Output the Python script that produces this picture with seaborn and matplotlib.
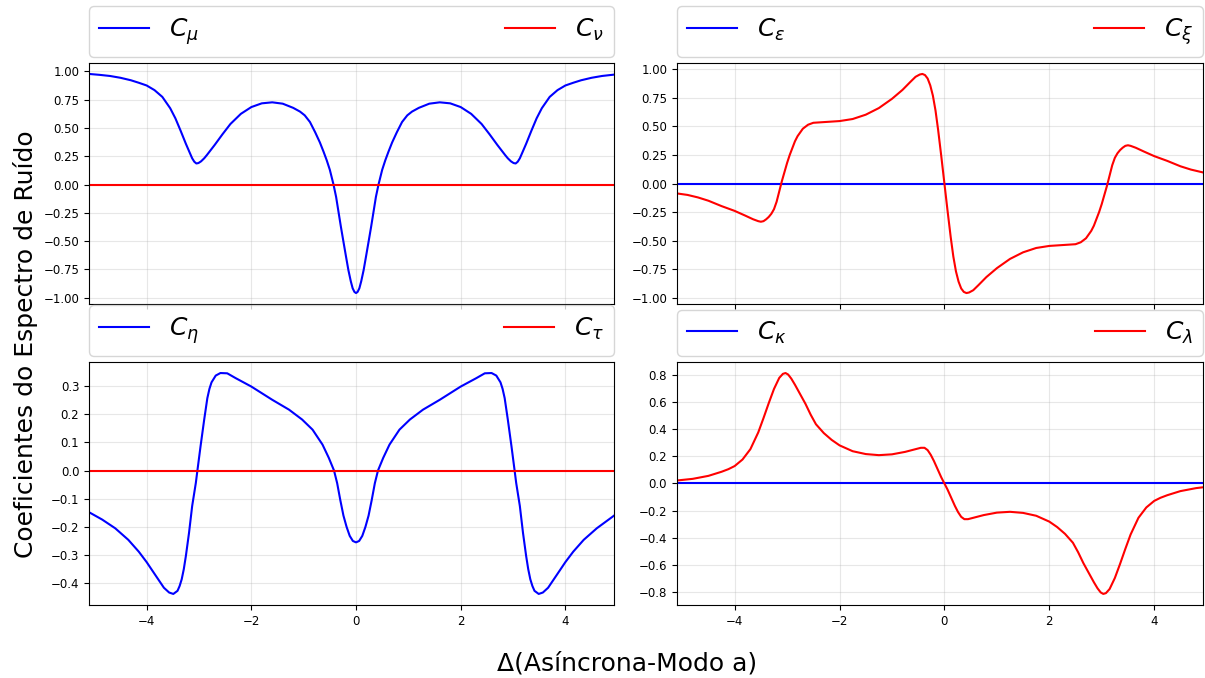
import matplotlib
matplotlib.use("Agg")
import matplotlib.pyplot as plt
import seaborn as sns

# C_mu (top left, blue)
x_mu = [-5.10, -4.90, -4.70, -4.50, -4.30, -4.15, -4.00, -3.85, -3.70, -3.55,
        -3.45, -3.35, -3.25, -3.18, -3.13, -3.09, -3.05, -3.01, -2.96, -2.90,
        -2.85, -2.70, -2.55, -2.40, -2.20, -2.00, -1.80, -1.60, -1.40, -1.20,
        -1.07, -0.98, -0.88, -0.78, -0.69, -0.62, -0.56, -0.50, -0.43, -0.38,
        -0.34, -0.29, -0.24, -0.19, -0.146, -0.10, -0.064, -0.03, 0.00, 0.03,
        0.064, 0.10, 0.146, 0.19, 0.24, 0.29, 0.34, 0.38, 0.43, 0.50,
        0.56, 0.62, 0.69, 0.78, 0.88, 0.98, 1.07, 1.20, 1.40, 1.60,
        1.80, 2.00, 2.20, 2.40, 2.55, 2.70, 2.85, 2.90, 2.96, 3.01,
        3.05, 3.09, 3.13, 3.18, 3.25, 3.35, 3.45, 3.55, 3.70, 3.85,
        4.00, 4.15, 4.30, 4.50, 4.70, 4.93]
y_mu = [0.978, 0.970, 0.960, 0.944, 0.922, 0.900, 0.876, 0.835, 0.775, 0.675,
        0.585, 0.475, 0.360, 0.285, 0.232, 0.202, 0.186, 0.190, 0.205, 0.232,
        0.260, 0.350, 0.445, 0.535, 0.625, 0.685, 0.718, 0.727, 0.715, 0.678,
        0.645, 0.612, 0.553, 0.462, 0.372, 0.290, 0.215, 0.130, 0.000, -0.110,
        -0.226, -0.370, -0.506, -0.640, -0.756, -0.855, -0.918, -0.950, -0.960, -0.950,
        -0.918, -0.855, -0.756, -0.640, -0.506, -0.370, -0.226, -0.110, 0.000, 0.130,
        0.215, 0.290, 0.372, 0.462, 0.553, 0.612, 0.645, 0.678, 0.715, 0.727,
        0.718, 0.685, 0.625, 0.535, 0.445, 0.350, 0.260, 0.232, 0.205, 0.190,
        0.186, 0.202, 0.232, 0.285, 0.360, 0.475, 0.585, 0.675, 0.775, 0.835,
        0.876, 0.900, 0.922, 0.944, 0.960, 0.972]

# C_xi (top right, red)
x_xi = [-5.10, -4.90, -4.70, -4.50, -4.25, -4.00, -3.80, -3.65, -3.55, -3.50,
        -3.45, -3.40, -3.35, -3.30, -3.25, -3.20, -3.15, -3.10, -3.05, -3.00,
        -2.95, -2.90, -2.85, -2.80, -2.70, -2.60, -2.50, -2.30, -2.00, -1.75,
        -1.50, -1.25, -1.00, -0.80, -0.65, -0.55, -0.47, -0.42, -0.37, -0.32,
        -0.27, -0.22, -0.17, -0.12, -0.06, 0.00, 0.06, 0.12, 0.17, 0.22,
        0.27, 0.32, 0.37, 0.42, 0.47, 0.55, 0.65, 0.80, 1.00, 1.25,
        1.50, 1.75, 2.00, 2.30, 2.50, 2.60, 2.70, 2.80, 2.85, 2.90,
        2.95, 3.00, 3.05, 3.10, 3.15, 3.20, 3.25, 3.30, 3.35, 3.40,
        3.45, 3.50, 3.55, 3.65, 3.80, 4.00, 4.25, 4.50, 4.70, 4.93]
y_xi = [-0.087, -0.100, -0.122, -0.151, -0.198, -0.240, -0.281, -0.313, -0.330, -0.335,
        -0.330, -0.314, -0.293, -0.265, -0.225, -0.160, -0.070, 0.020, 0.100, 0.180,
        0.250, 0.310, 0.370, 0.415, 0.480, 0.515, 0.532, 0.538, 0.547, 0.565,
        0.603, 0.661, 0.742, 0.820, 0.890, 0.935, 0.955, 0.960, 0.950, 0.920,
        0.860, 0.770, 0.640, 0.470, 0.240, 0.000, -0.240, -0.470, -0.640, -0.770,
        -0.860, -0.920, -0.950, -0.960, -0.955, -0.935, -0.890, -0.820, -0.742, -0.661,
        -0.603, -0.565, -0.547, -0.538, -0.532, -0.515, -0.480, -0.415, -0.370, -0.310,
        -0.250, -0.180, -0.100, -0.020, 0.070, 0.160, 0.225, 0.265, 0.293, 0.314,
        0.330, 0.335, 0.330, 0.313, 0.281, 0.240, 0.198, 0.151, 0.122, 0.097]

# C_eta (bottom left, blue)
x_eta = [-5.10, -4.85, -4.60, -4.35, -4.15, -4.00, -3.83, -3.67, -3.57, -3.49,
         -3.41, -3.37, -3.33, -3.29, -3.25, -3.19, -3.13, -3.06, -3.03, -2.97,
         -2.90, -2.84, -2.80, -2.76, -2.68, -2.59, -2.46, -2.30, -2.00, -1.60,
         -1.28, -1.03, -0.83, -0.64, -0.52, -0.42, -0.36, -0.30, -0.24, -0.18,
         -0.12, -0.06, 0.00, 0.06, 0.12, 0.18, 0.24, 0.30, 0.36, 0.42,
         0.52, 0.64, 0.83, 1.03, 1.28, 1.60, 2.00, 2.30, 2.46, 2.59,
         2.68, 2.76, 2.80, 2.84, 2.90, 2.97, 3.03, 3.06, 3.13, 3.19,
         3.25, 3.29, 3.33, 3.37, 3.41, 3.49, 3.57, 3.67, 3.83, 4.00,
         4.15, 4.35, 4.60, 4.93]
y_eta = [-0.148, -0.174, -0.205, -0.246, -0.288, -0.325, -0.372, -0.416, -0.433, -0.438,
         -0.427, -0.410, -0.386, -0.350, -0.303, -0.221, -0.126, -0.044, 0.000, 0.086,
         0.181, 0.257, 0.290, 0.313, 0.337, 0.346, 0.345, 0.328, 0.298, 0.251,
         0.216, 0.181, 0.145, 0.092, 0.045, 0.000, -0.045, -0.105, -0.160, -0.200,
         -0.232, -0.250, -0.255, -0.250, -0.232, -0.200, -0.160, -0.105, -0.045, 0.000,
         0.045, 0.092, 0.145, 0.181, 0.216, 0.251, 0.298, 0.328, 0.345, 0.346,
         0.337, 0.313, 0.290, 0.257, 0.181, 0.086, 0.000, -0.044, -0.126, -0.221,
         -0.303, -0.350, -0.386, -0.410, -0.427, -0.438, -0.433, -0.416, -0.372, -0.325,
         -0.288, -0.246, -0.205, -0.160]

# C_lambda (bottom right, red)
x_lam = [-5.10, -4.80, -4.50, -4.25, -4.12, -4.00, -3.85, -3.70, -3.55, -3.45,
         -3.35, -3.25, -3.15, -3.08, -3.03, -2.98, -2.92, -2.85, -2.75, -2.65,
         -2.55, -2.45, -2.30, -2.15, -2.00, -1.75, -1.50, -1.25, -1.00, -0.75,
         -0.55, -0.45, -0.38, -0.32, -0.26, -0.20, -0.13, -0.06, 0.00, 0.06,
         0.13, 0.20, 0.26, 0.32, 0.38, 0.45, 0.55, 0.75, 1.00, 1.25,
         1.50, 1.75, 2.00, 2.15, 2.30, 2.45, 2.55, 2.65, 2.75, 2.85,
         2.92, 2.98, 3.03, 3.08, 3.15, 3.25, 3.35, 3.45, 3.55, 3.70,
         3.85, 4.00, 4.12, 4.25, 4.50, 4.80, 4.93]
y_lam = [0.022, 0.034, 0.056, 0.086, 0.105, 0.128, 0.176, 0.252, 0.375, 0.480,
         0.590, 0.694, 0.775, 0.805, 0.811, 0.800, 0.770, 0.725, 0.655, 0.585,
         0.505, 0.435, 0.370, 0.320, 0.280, 0.237, 0.216, 0.208, 0.214, 0.232,
         0.252, 0.262, 0.262, 0.245, 0.210, 0.165, 0.105, 0.045, 0.000, -0.045,
         -0.105, -0.165, -0.210, -0.245, -0.262, -0.262, -0.252, -0.232, -0.214, -0.208,
         -0.216, -0.237, -0.280, -0.320, -0.370, -0.435, -0.505, -0.585, -0.655, -0.725,
         -0.770, -0.800, -0.811, -0.805, -0.775, -0.694, -0.590, -0.480, -0.375, -0.252,
         -0.176, -0.128, -0.105, -0.086, -0.056, -0.034, -0.028]

# the flat coefficients
x_flat = [-5.10, 4.93]
y_flat = [0.0, 0.0]

panels = [
    (x_mu, y_mu, x_flat, y_flat, r'$C_\mu$', r'$C_\nu$'),
    (x_flat, y_flat, x_xi, y_xi, r'$C_\varepsilon$', r'$C_\xi$'),
    (x_eta, y_eta, x_flat, y_flat, r'$C_\eta$', r'$C_\tau$'),
    (x_flat, y_flat, x_lam, y_lam, r'$C_\kappa$', r'$C_\lambda$'),
]

# axes boxes in figure fraction [left, bottom, width, height]
boxes = [
    [0.0739, 0.5516, 0.4357, 0.3555],
    [0.5618, 0.5516, 0.4365, 0.3555],
    [0.0739, 0.1077, 0.4357, 0.3584],
    [0.5618, 0.1077, 0.4365, 0.3584],
]

fig, axes = plt.subplots(2, 2, figsize=(12.05, 6.78), dpi=100, sharex=True)

for ax, box, (xb, yb, xr, yr, lb, lr) in zip(axes.flat, boxes, panels):
    ax.set_position(box)
    sns.lineplot(x=xb, y=yb, ax=ax, color='blue', label=lb, linewidth=1.5)
    sns.lineplot(x=xr, y=yr, ax=ax, color='red', label=lr, linewidth=1.5)
    ax.set_xlim(-5.1, 4.93)
    ax.grid(True, alpha=0.3)
    ax.tick_params(labelsize=8.5)
    ax.legend(bbox_to_anchor=(0, 1.025, 1, 0.2), loc='lower left', mode='expand',
              ncol=2, borderaxespad=0, fontsize=18)

fig.text(0.52, 0.022, 'Δ(Asíncrona-Modo a)', fontsize=18, ha='center', va='center')
fig.text(0.021, 0.493, 'Coeficientes do Espectro de Ruído', fontsize=18,
         rotation=90, ha='center', va='center')

fig.savefig('out.png', dpi=100)
